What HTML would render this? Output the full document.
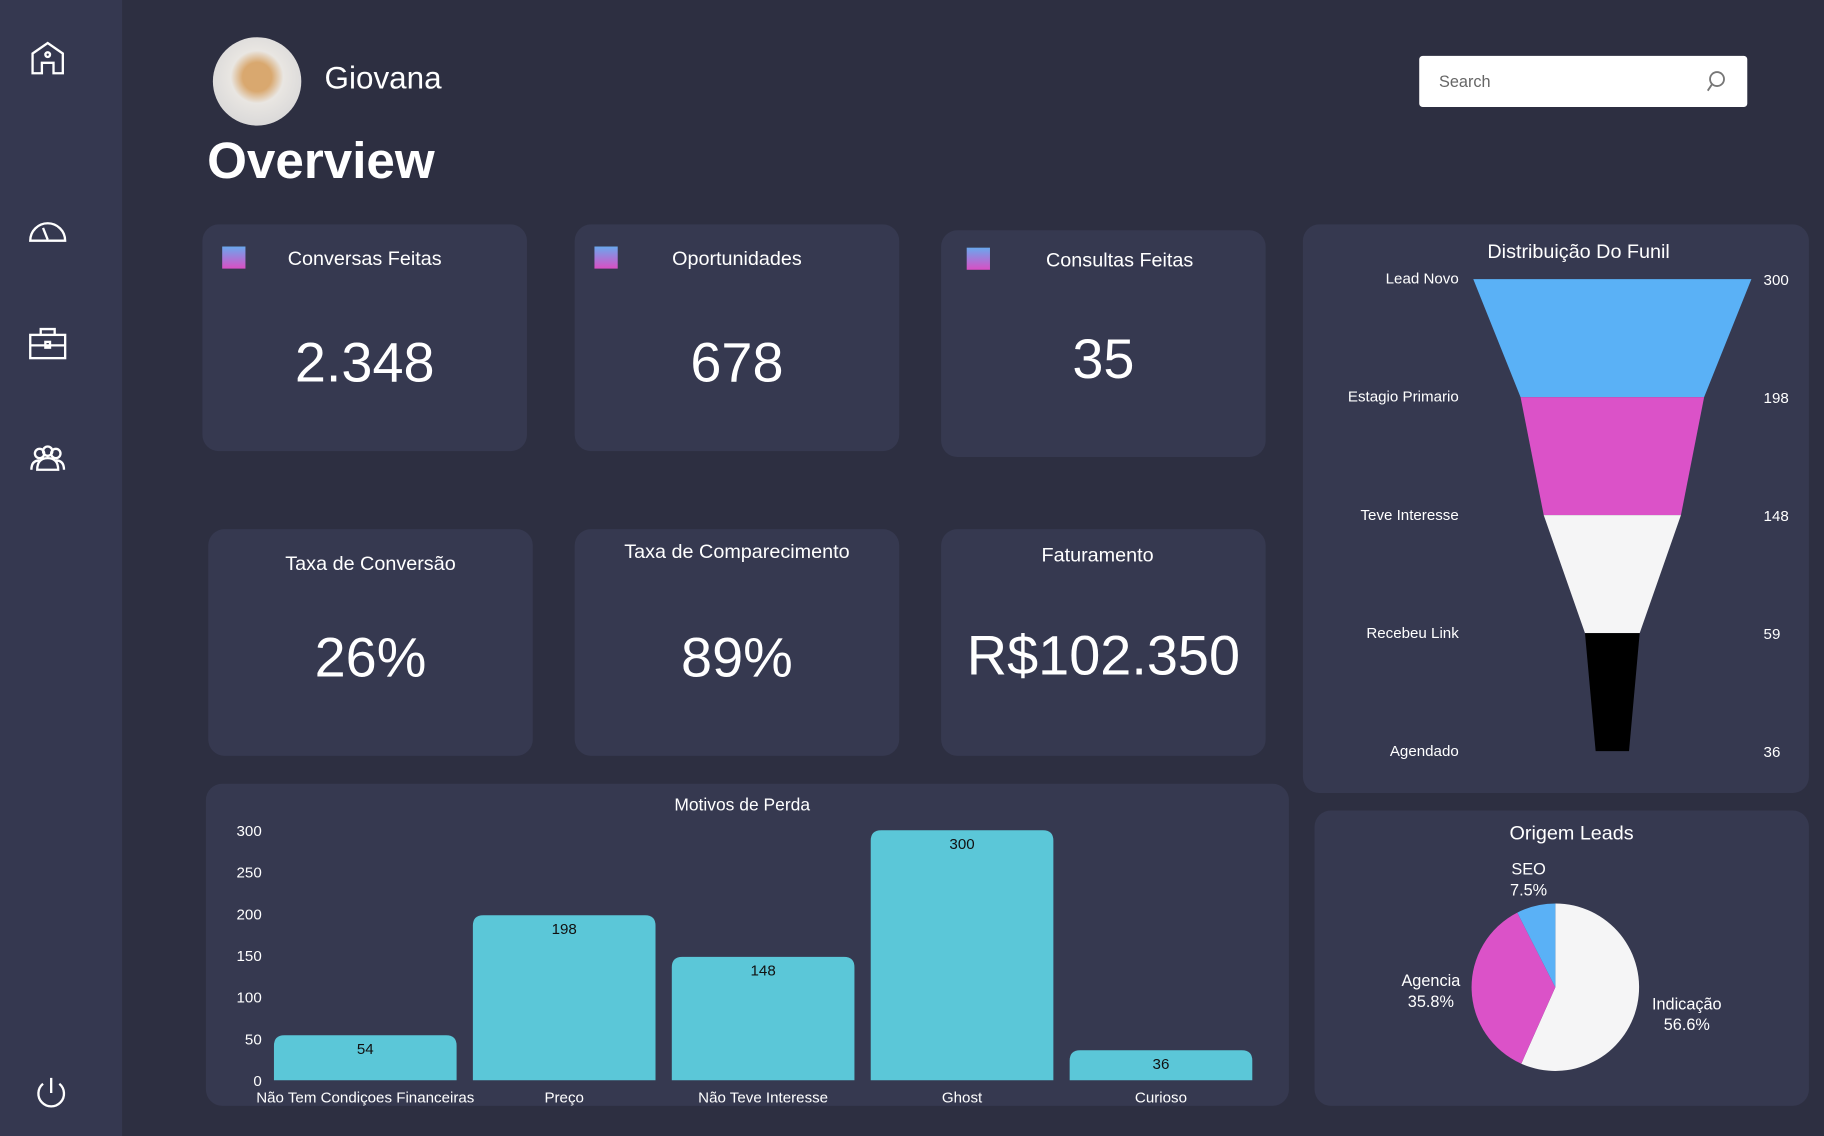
<!DOCTYPE html>
<html><head><meta charset="utf-8">
<style>
html,body{margin:0;padding:0;width:1824px;height:1136px;overflow:hidden;background:#2d2f41;}
#wrap{position:absolute;left:0;top:0;width:1568px;height:977px;transform:scale(1.1633,1.1628);transform-origin:0 0;font-family:"Liberation Sans",sans-serif;color:#fff;}
.abs{position:absolute;}
.card{position:absolute;background:#363950;border-radius:14px;}
.ctitle{position:absolute;left:0;right:0;text-align:center;font-size:17px;}
.cval{position:absolute;left:0;right:0;text-align:center;font-size:48px;}
.ico{position:absolute;left:191px;width:20px;height:19px;background:linear-gradient(#6aa8ee,#d94fc4);}
</style></head><body>
<div id="wrap">
<div class="abs" style="left:0;top:0;width:105px;height:977px;background:#353850"></div>
<svg class="abs" style="left:0;top:0" width="105" height="977" fill="none" stroke="#fff" stroke-width="2">
 <g><path d="M28 63 V46 L41 37 L54 46 V63 H46 V54 H36 V63 Z"/><circle cx="41" cy="47" r="2"/></g>
 <g><path d="M26 207 A15 15 0 0 1 56 207 Z"/><path d="M41 206 L37 196"/></g>
 <g><rect x="26" y="288" width="30" height="20"/><path d="M35 288 V283 H47 V288 M26 297 H56"/><rect x="39" y="294" width="4" height="5"/></g>
 <g><circle cx="34" cy="390" r="4"/><circle cx="41" cy="388" r="4"/><circle cx="48" cy="390" r="4"/><path d="M27 404 Q27 396 34 396 M55 404 Q55 396 48 396 M32 404 Q32 394 41 394 Q50 394 50 404 Z"/></g>
 <g><path d="M37 932 A11 11 0 1 0 51 932"/><path d="M44 927 V940"/></g>
</svg>
<div class="abs" style="left:183px;top:32px;width:76px;height:76px;border-radius:50%;background:radial-gradient(circle at 50% 45%,#d9a86f 0 22%,#e9e6e2 40%,#cfcfd2 100%)"></div>
<div class="abs" style="left:279px;top:52px;font-size:27px">Giovana</div>
<div class="abs" style="left:178px;top:114px;font-size:44px;font-weight:bold">Overview</div>
<div class="abs" style="left:1220px;top:48px;width:282px;height:44px;background:#fff;border-radius:3px">
 <span class="abs" style="left:17px;top:14px;font-size:14px;color:#666">Search</span>
 <svg class="abs" style="left:246px;top:12px" width="18" height="20" fill="none" stroke="#777" stroke-width="1.6"><circle cx="10" cy="8" r="6"/><path d="M6 12 L2 18"/></svg>
</div>

<div class="card" style="left:174px;top:193px;width:279px;height:195px"><div class="ctitle" style="top:20px">Conversas Feitas</div><div class="cval" style="top:92px">2.348</div></div>
<div class="ico" style="top:212px;left:191px"></div>
<div class="card" style="left:494px;top:193px;width:279px;height:195px"><div class="ctitle" style="top:20px">Oportunidades</div><div class="cval" style="top:92px">678</div></div>
<div class="ico" style="top:212px;left:511px"></div>
<div class="card" style="left:809px;top:198px;width:279px;height:195px"><div class="ctitle" style="top:16px;left:28px">Consultas Feitas</div><div class="cval" style="top:84px">35</div></div>
<div class="ico" style="top:213px;left:831px"></div>
<div class="card" style="left:179px;top:455px;width:279px;height:195px"><div class="ctitle" style="top:20px">Taxa de Conversão</div><div class="cval" style="top:84px">26%</div></div>
<div class="card" style="left:494px;top:455px;width:279px;height:195px"><div class="ctitle" style="top:10px">Taxa de Comparecimento</div><div class="cval" style="top:84px">89%</div></div>
<div class="card" style="left:809px;top:455px;width:279px;height:195px"><div class="ctitle" style="top:13px;left:-10px">Faturamento</div><div class="cval" style="top:82px">R$102.350</div></div>

<div class="card" style="left:1120px;top:193px;width:435px;height:489px"></div>
<div class="card" style="left:177px;top:674px;width:931px;height:277px"></div>
<div class="card" style="left:1130px;top:697px;width:425px;height:254px"></div>

<svg id="charts" class="abs" style="left:0;top:0" width="1568" height="977" font-family="Liberation Sans, sans-serif"></svg>
</div>
<script>
// funnel data
const funnelStages=["Lead Novo","Estagio Primario","Teve Interesse","Recebeu Link","Agendado"];
const funnelValues=[300,198,148,59,36];
// bar data
const barCats=["Não Tem Condiçoes Financeiras","Preço","Não Teve Interesse","Ghost","Curioso"];
const barValues=[54,198,148,300,36];
const barTicks=[0,50,100,150,200,250,300];
// pie data
const pieLabels=["Indicação","Agencia","SEO"];
const pieValues=[56.6,35.8,7.5];

const NS="http://www.w3.org/2000/svg";
const svg=document.getElementById('charts');
function mk(t,a,txt){const e=document.createElementNS(NS,t);for(const k in a)e.setAttribute(k,a[k]);if(txt!=null)e.textContent=txt;svg.appendChild(e);return e;}

// Funnel
let t=mk('text',{x:1357,y:222,'text-anchor':'middle','font-size':17,fill:'#fff'},'Distribuição Do Funil');


const fx=1386,fTop=240,fStep=101.5,fScale=0.797;
const fy=i=>fTop+i*fStep, fw=v=>v*fScale;
const fColors=["#5ab1f6","#db52c8","#f5f5f6","#000000"];
for(let i=0;i<funnelValues.length-1;i++){
  const w1=fw(funnelValues[i])/2,w2=fw(funnelValues[i+1])/2,y1=fy(i),y2=fy(i+1);
  const p=mk('polygon',{points:`${fx-w1},${y1} ${fx+w1},${y1} ${fx+w2},${y2} ${fx-w2},${y2}`,fill:fColors[i]});
  
  
}
funnelStages.forEach((s,i)=>{
  const a=mk('text',{x:1254,y:fy(i)+4,'text-anchor':'end','font-size':13,fill:'#fff'},s);
  
  
  const b=mk('text',{x:1516,y:fy(i)+5,'font-size':13,fill:'#fff'},String(funnelValues[i]));
  
  
});

// Bar chart
t=mk('text',{x:638,y:697,'text-anchor':'middle','font-size':15,fill:'#fff'},'Motivos de Perda');


const y0=929,yMax=300,yH=215;
const yS=v=>y0-v/yMax*yH;
const xS=i=>314+i*171,bw=157;
barTicks.forEach(v=>{
  const e=mk('text',{x:225,y:yS(v)+5,'text-anchor':'end','font-size':13,fill:'#fff'},String(v));
  
  
});
barValues.forEach((v,i)=>{
  const x=xS(i)-bw/2,y=yS(v),h=y0-y,r=Math.min(9,h);
  const p=mk('path',{d:`M${x},${y0} V${y+r} Q${x},${y} ${x+r},${y} H${x+bw-r} Q${x+bw},${y} ${x+bw},${y+r} V${y0} Z`,fill:'#5bc7d8'});
  
  
  const l=mk('text',{x:xS(i),y:y+16,'text-anchor':'middle','font-size':13,fill:'#111'},String(v));
  
  
  const c=mk('text',{x:xS(i),y:948,'text-anchor':'middle','font-size':13,fill:'#fff'},barCats[i]);
  
  
});

// Pie
t=mk('text',{x:1351,y:722,'text-anchor':'middle','font-size':17,fill:'#fff'},'Origem Leads');


const cx=1337,cy=849,R=72;
const pColors=["#f5f5f6","#db52c8","#5ab1f6"];
const tot=pieValues.reduce((a,b)=>a+b,0);
let ang=0;
const labelPos=[[1450,868],[1230,848],[1314,752]];
pieValues.forEach((v,i)=>{
  const a1=ang,a2=ang+v/tot*2*Math.PI;ang=a2;
  const px=a=>cx+R*Math.sin(a),py=a=>cy-R*Math.cos(a);
  const large=(a2-a1)>Math.PI?1:0;
  const p=mk('path',{d:`M${cx},${cy} L${px(a1)},${py(a1)} A${R},${R} 0 ${large} 1 ${px(a2)},${py(a2)} Z`,fill:pColors[i]});
  
  
  const [lx,ly]=labelPos[i];
  const a=mk('text',{x:lx,y:ly,'text-anchor':'middle','font-size':14,fill:'#fff'},pieLabels[i]);
  
  
  const b=mk('text',{x:lx,y:ly+18,'text-anchor':'middle','font-size':14,fill:'#fff'},v.toFixed(1)+'%');
  
  
});
</script>
</body></html>
